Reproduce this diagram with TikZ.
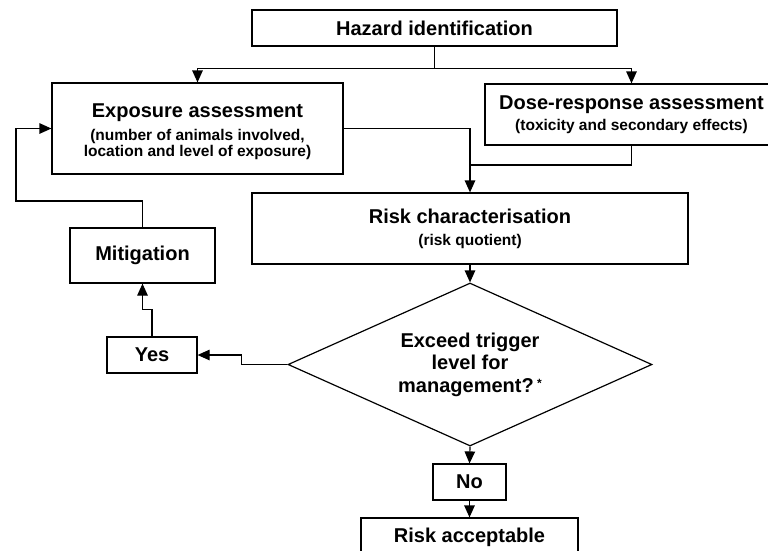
\documentclass[tikz,border=0pt]{standalone}
\usepackage{fontspec}
\setmainfont{Liberation Sans}
\usetikzlibrary{arrows.meta,shapes.geometric}
\newcommand{\ttl}{\fontsize{20}{24}\selectfont}
\newcommand{\sub}{\fontsize{15.5}{16}\selectfont}
\begin{document}
\begin{tikzpicture}[x=1pt,y=-1pt,line width=1.2pt,
    box/.style={draw,inner sep=0pt,align=center,font=\bfseries\ttl},
    arr/.style={-{Triangle[length=12pt,width=10.5pt]}}]
    \useasboundingbox (0,0) rectangle (768,550);
    \clip (0,0) rectangle (768,550);
    % boxes
    \node[box,minimum width=365pt,minimum height=36pt] (hazard) at (434.5,28) {Hazard identification};
    \node[box,minimum width=291pt,minimum height=91pt] (expo) at (197.5,128.5)
        {\rule{0pt}{20.5pt}Exposure assessment\\[-1pt] {\sub (number of animals involved,}\\[-8.5pt] {\sub location and level of exposure)}};
    \node[box,minimum width=293pt,minimum height=61pt] (dose) at (631.5,114.5)
        {Dose-response assessment\\[-3pt] {\sub (toxicity and secondary effects)}};
    \node[box,minimum width=436pt,minimum height=71pt] (risk) at (470,228.5)
        {Risk characterisation\\[-2pt] {\sub (risk quotient)}};
    \node[box,shape=diamond,shape aspect=2.233,minimum width=364pt,minimum height=163pt] (dia) at (470,364.5)
        {Exceed trigger\\[-1.5pt] level for\\[-1.5pt] management?\,{\fontsize{12}{12}\selectfont\raisebox{5pt}{*}}};
    \node[box,minimum width=145pt,minimum height=55pt] (mitig) at (142.5,255.5) {Mitigation};
    \node[box,minimum width=90pt,minimum height=36pt] (yes) at (152,355) {Yes};
    \node[box,minimum width=73pt,minimum height=36pt] (no) at (469.5,482) {No};
    \node[box,minimum width=217pt,minimum height=38pt] (accept) at (469.5,537) {Risk acceptable};
    % connectors
    \draw (hazard.south) -- ++(0,22) coordinate (split);
    \draw[arr] (split) -| (expo.north);
    \draw[arr] (split) -| (dose.north);
    \draw[arr] (expo.east) -| (risk.north);
    \coordinate (join) at (470,165);
    \draw (dose.south) |- (join);
    \draw[arr] (risk.south) -- (dia.north);
    \draw[arr] (dia.west) -- ++(-46,0) |- (yes.east);
    \draw[arr] (yes.north) -- ++(0,-27) -| (mitig.south);
    \coordinate (back) at (16,201);
    \draw[arr] (mitig.north) |- (back) |- (expo.west);
    \draw[arr] (dia.south) -- (no.north);
    \draw[arr] (no.south) -- (accept.north);
\end{tikzpicture}
\end{document}
